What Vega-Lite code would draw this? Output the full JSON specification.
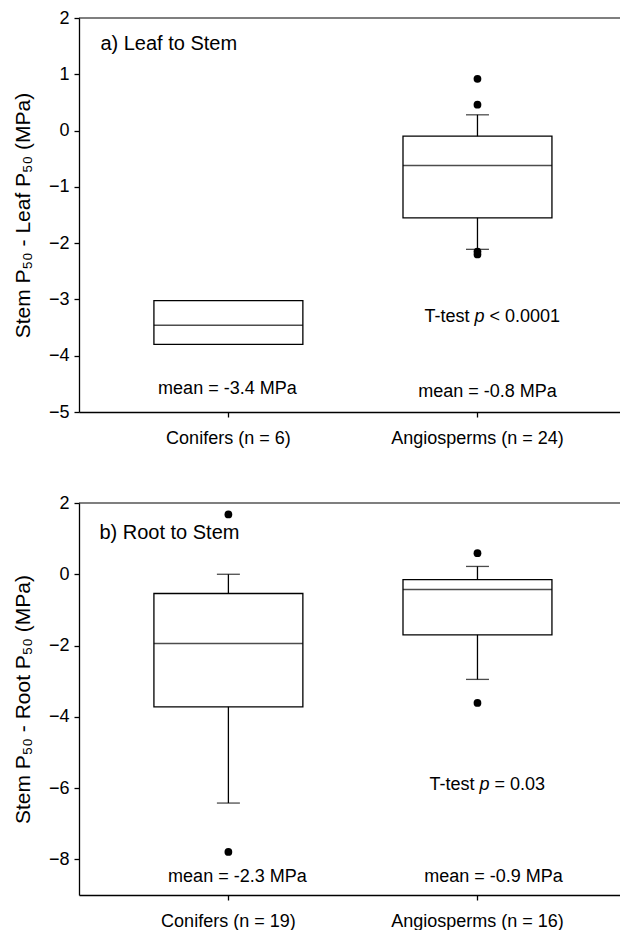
{
  "$schema": "https://vega.github.io/schema/vega-lite/v6.json",
  "background": "white",
  "padding": {"left": 12, "top": 9, "right": 0, "bottom": 0},
  "spacing": 47,
  "datasets": {
    "boxes": [
      {"panel": "a", "group": "Conifers (n = 6)", "q1": -3.80, "med": -3.46, "q3": -3.02, "lo": null, "hi": null},
      {"panel": "a", "group": "Angiosperms (n = 24)", "q1": -1.55, "med": -0.62, "q3": -0.10, "lo": -2.11, "hi": 0.28},
      {"panel": "b", "group": "Conifers (n = 19)", "q1": -3.72, "med": -1.94, "q3": -0.54, "lo": -6.42, "hi": 0.0},
      {"panel": "b", "group": "Angiosperms (n = 16)", "q1": -1.70, "med": -0.43, "q3": -0.15, "lo": -2.95, "hi": 0.22}
    ],
    "outliers": [
      {"panel": "a", "group": "Angiosperms (n = 24)", "v": 0.92},
      {"panel": "a", "group": "Angiosperms (n = 24)", "v": 0.46},
      {"panel": "a", "group": "Angiosperms (n = 24)", "v": -2.15},
      {"panel": "a", "group": "Angiosperms (n = 24)", "v": -2.20},
      {"panel": "b", "group": "Conifers (n = 19)", "v": 1.68},
      {"panel": "b", "group": "Conifers (n = 19)", "v": -7.79},
      {"panel": "b", "group": "Angiosperms (n = 16)", "v": 0.59},
      {"panel": "b", "group": "Angiosperms (n = 16)", "v": -3.61}
    ],
    "notes": [
      {"panel": "a", "kind": "title", "group": "Conifers (n = 6)", "y": 1.53, "text": "a) Leaf to Stem"},
      {"panel": "a", "kind": "meanC", "group": "Conifers (n = 6)", "y": -4.60, "text": "mean = -3.4 MPa"},
      {"panel": "a", "kind": "meanA", "group": "Angiosperms (n = 24)", "y": -4.65, "text": "mean = -0.8 MPa"},
      {"panel": "a", "kind": "t1", "group": "Angiosperms (n = 24)", "y": -3.32, "text": "T-test"},
      {"panel": "a", "kind": "t2", "group": "Angiosperms (n = 24)", "y": -3.32, "text": "p"},
      {"panel": "a", "kind": "t3", "group": "Angiosperms (n = 24)", "y": -3.32, "text": "< 0.0001"},
      {"panel": "b", "kind": "title", "group": "Conifers (n = 19)", "y": 1.15, "text": "b) Root to Stem"},
      {"panel": "b", "kind": "meanC", "group": "Conifers (n = 19)", "y": -8.50, "text": "mean = -2.3 MPa"},
      {"panel": "b", "kind": "meanA", "group": "Angiosperms (n = 16)", "y": -8.50, "text": "mean = -0.9 MPa"},
      {"panel": "b", "kind": "t1", "group": "Angiosperms (n = 16)", "y": -5.91, "text": "T-test"},
      {"panel": "b", "kind": "t2", "group": "Angiosperms (n = 16)", "y": -5.91, "text": "p"},
      {"panel": "b", "kind": "t3", "group": "Angiosperms (n = 16)", "y": -5.91, "text": "= 0.03"}
    ]
  },
  "vconcat": [
    {
      "width": 541,
      "height": 394,
      "encoding": {
        "x": {"field": "group", "type": "nominal",
          "scale": {"domain": ["Conifers (n = 6)", "Angiosperms (n = 24)"], "paddingInner": 0.402, "paddingOuter": 0.287, "align": 0.524},
          "axis": {"title": null, "labelAngle": 0, "labelFontSize": 18, "labelPadding": 12, "tickSize": 5}}
      },
      "layer": [
        {
          "data": {"values": [{}]},
          "mark": {"type": "rule", "color": "black", "strokeWidth": 1.2},
          "encoding": {"x": null, "y": {"datum": 2, "type": "quantitative", "scale": {"domain": [-5, 2], "nice": false, "zero": false},
            "axis": {"title": "Stem P₅₀ - Leaf P₅₀ (MPa)", "values": [-5, -4, -3, -2, -1, 0, 1, 2], "format": "d", "labelFontSize": 18, "titleFontSize": 21, "titleFontWeight": "normal", "labelPadding": 5, "titlePadding": 15}}}
        },
        {
          "data": {"name": "boxes"},
          "transform": [{"filter": "datum.panel == 'a'"}],
          "mark": {"type": "bar", "fill": "white", "stroke": "black", "strokeWidth": 1.3},
          "encoding": {"y": {"field": "q1", "type": "quantitative"}, "y2": {"field": "q3"}}
        },
        {
          "data": {"name": "boxes"},
          "transform": [{"filter": "datum.panel == 'a'"}],
          "mark": {"type": "tick", "color": "black", "size": 149, "thickness": 1.5},
          "encoding": {"y": {"field": "med", "type": "quantitative"}}
        },
        {
          "data": {"name": "boxes"},
          "transform": [{"filter": "datum.panel == 'a' && datum.hi != null"}],
          "mark": {"type": "rule", "color": "black", "strokeWidth": 1.3},
          "encoding": {"y": {"field": "q3", "type": "quantitative"}, "y2": {"field": "hi"}}
        },
        {
          "data": {"name": "boxes"},
          "transform": [{"filter": "datum.panel == 'a' && datum.lo != null"}],
          "mark": {"type": "rule", "color": "black", "strokeWidth": 1.3},
          "encoding": {"y": {"field": "lo", "type": "quantitative"}, "y2": {"field": "q1"}}
        },
        {
          "data": {"name": "boxes"},
          "transform": [{"filter": "datum.panel == 'a' && datum.hi != null"}],
          "mark": {"type": "tick", "color": "black", "size": 23, "thickness": 1.3},
          "encoding": {"y": {"field": "hi", "type": "quantitative"}}
        },
        {
          "data": {"name": "boxes"},
          "transform": [{"filter": "datum.panel == 'a' && datum.lo != null"}],
          "mark": {"type": "tick", "color": "black", "size": 23, "thickness": 1.3},
          "encoding": {"y": {"field": "lo", "type": "quantitative"}}
        },
        {
          "data": {"name": "outliers"},
          "transform": [{"filter": "datum.panel == 'a'"}],
          "mark": {"type": "point", "filled": true, "color": "black", "size": 60, "opacity": 1},
          "encoding": {"y": {"field": "v", "type": "quantitative"}}
        },
        {
          "data": {"name": "notes"},
          "transform": [{"filter": "datum.panel == 'a' && datum.kind == 'title'"}],
          "mark": {"type": "text", "align": "left", "baseline": "middle", "dx": -128, "fontSize": 20},
          "encoding": {"y": {"field": "y", "type": "quantitative"}, "text": {"field": "text"}}
        },
        {
          "data": {"name": "notes"},
          "transform": [{"filter": "datum.panel == 'a' && datum.kind == 'meanC'"}],
          "mark": {"type": "text", "align": "center", "baseline": "middle", "dx": -1},
          "encoding": {"y": {"field": "y", "type": "quantitative"}, "text": {"field": "text"}}
        },
        {
          "data": {"name": "notes"},
          "transform": [{"filter": "datum.panel == 'a' && datum.kind == 'meanA'"}],
          "mark": {"type": "text", "align": "center", "baseline": "middle", "dx": 10},
          "encoding": {"y": {"field": "y", "type": "quantitative"}, "text": {"field": "text"}}
        },
        {
          "data": {"name": "notes"},
          "transform": [{"filter": "datum.panel == 'a' && datum.kind == 't1'"}],
          "mark": {"type": "text", "align": "right", "baseline": "middle", "dx": -8},
          "encoding": {"y": {"field": "y", "type": "quantitative"}, "text": {"field": "text"}}
        },
        {
          "data": {"name": "notes"},
          "transform": [{"filter": "datum.panel == 'a' && datum.kind == 't2'"}],
          "mark": {"type": "text", "align": "center", "baseline": "middle", "dx": 2, "fontStyle": "italic"},
          "encoding": {"y": {"field": "y", "type": "quantitative"}, "text": {"field": "text"}}
        },
        {
          "data": {"name": "notes"},
          "transform": [{"filter": "datum.panel == 'a' && datum.kind == 't3'"}],
          "mark": {"type": "text", "align": "left", "baseline": "middle", "dx": 12},
          "encoding": {"y": {"field": "y", "type": "quantitative"}, "text": {"field": "text"}}
        }
      ]
    },
    {
      "width": 541,
      "height": 392,
      "encoding": {
        "x": {"field": "group", "type": "nominal",
          "scale": {"domain": ["Conifers (n = 19)", "Angiosperms (n = 16)"], "paddingInner": 0.402, "paddingOuter": 0.287, "align": 0.524},
          "axis": {"title": null, "labelAngle": 0, "labelFontSize": 18, "labelPadding": 12, "tickSize": 5}}
      },
      "layer": [
        {
          "data": {"values": [{}]},
          "mark": {"type": "rule", "color": "black", "strokeWidth": 1.2},
          "encoding": {"x": null, "y": {"datum": 2, "type": "quantitative", "scale": {"domain": [-9, 2], "nice": false, "zero": false},
            "axis": {"title": "Stem P₅₀ - Root P₅₀ (MPa)", "values": [-8, -6, -4, -2, 0, 2], "format": "d", "labelFontSize": 18, "titleFontSize": 21, "titleFontWeight": "normal", "labelPadding": 5, "titlePadding": 15}}}
        },
        {
          "data": {"name": "boxes"},
          "transform": [{"filter": "datum.panel == 'b'"}],
          "mark": {"type": "bar", "fill": "white", "stroke": "black", "strokeWidth": 1.3},
          "encoding": {"y": {"field": "q1", "type": "quantitative"}, "y2": {"field": "q3"}}
        },
        {
          "data": {"name": "boxes"},
          "transform": [{"filter": "datum.panel == 'b'"}],
          "mark": {"type": "tick", "color": "black", "size": 149, "thickness": 1.5},
          "encoding": {"y": {"field": "med", "type": "quantitative"}}
        },
        {
          "data": {"name": "boxes"},
          "transform": [{"filter": "datum.panel == 'b' && datum.hi != null"}],
          "mark": {"type": "rule", "color": "black", "strokeWidth": 1.3},
          "encoding": {"y": {"field": "q3", "type": "quantitative"}, "y2": {"field": "hi"}}
        },
        {
          "data": {"name": "boxes"},
          "transform": [{"filter": "datum.panel == 'b' && datum.lo != null"}],
          "mark": {"type": "rule", "color": "black", "strokeWidth": 1.3},
          "encoding": {"y": {"field": "lo", "type": "quantitative"}, "y2": {"field": "q1"}}
        },
        {
          "data": {"name": "boxes"},
          "transform": [{"filter": "datum.panel == 'b' && datum.hi != null"}],
          "mark": {"type": "tick", "color": "black", "size": 23, "thickness": 1.3},
          "encoding": {"y": {"field": "hi", "type": "quantitative"}}
        },
        {
          "data": {"name": "boxes"},
          "transform": [{"filter": "datum.panel == 'b' && datum.lo != null"}],
          "mark": {"type": "tick", "color": "black", "size": 23, "thickness": 1.3},
          "encoding": {"y": {"field": "lo", "type": "quantitative"}}
        },
        {
          "data": {"name": "outliers"},
          "transform": [{"filter": "datum.panel == 'b'"}],
          "mark": {"type": "point", "filled": true, "color": "black", "size": 60, "opacity": 1},
          "encoding": {"y": {"field": "v", "type": "quantitative"}}
        },
        {
          "data": {"name": "notes"},
          "transform": [{"filter": "datum.panel == 'b' && datum.kind == 'title'"}],
          "mark": {"type": "text", "align": "left", "baseline": "middle", "dx": -129, "fontSize": 20},
          "encoding": {"y": {"field": "y", "type": "quantitative"}, "text": {"field": "text"}}
        },
        {
          "data": {"name": "notes"},
          "transform": [{"filter": "datum.panel == 'b' && datum.kind == 'meanC'"}],
          "mark": {"type": "text", "align": "center", "baseline": "middle", "dx": 9},
          "encoding": {"y": {"field": "y", "type": "quantitative"}, "text": {"field": "text"}}
        },
        {
          "data": {"name": "notes"},
          "transform": [{"filter": "datum.panel == 'b' && datum.kind == 'meanA'"}],
          "mark": {"type": "text", "align": "center", "baseline": "middle", "dx": 16},
          "encoding": {"y": {"field": "y", "type": "quantitative"}, "text": {"field": "text"}}
        },
        {
          "data": {"name": "notes"},
          "transform": [{"filter": "datum.panel == 'b' && datum.kind == 't1'"}],
          "mark": {"type": "text", "align": "right", "baseline": "middle", "dx": -3},
          "encoding": {"y": {"field": "y", "type": "quantitative"}, "text": {"field": "text"}}
        },
        {
          "data": {"name": "notes"},
          "transform": [{"filter": "datum.panel == 'b' && datum.kind == 't2'"}],
          "mark": {"type": "text", "align": "center", "baseline": "middle", "dx": 7, "fontStyle": "italic"},
          "encoding": {"y": {"field": "y", "type": "quantitative"}, "text": {"field": "text"}}
        },
        {
          "data": {"name": "notes"},
          "transform": [{"filter": "datum.panel == 'b' && datum.kind == 't3'"}],
          "mark": {"type": "text", "align": "left", "baseline": "middle", "dx": 17},
          "encoding": {"y": {"field": "y", "type": "quantitative"}, "text": {"field": "text"}}
        }
      ]
    }
  ],
  "config": {
    "view": {"stroke": null},
    "axis": {"domainColor": "black", "tickColor": "black", "labelColor": "black", "titleColor": "black", "labelFont": "Liberation Sans", "titleFont": "Liberation Sans", "grid": false, "domainWidth": 1.3, "tickWidth": 1.3},
    "text": {"font": "Liberation Sans", "fontSize": 18, "color": "black"}
  }
}
